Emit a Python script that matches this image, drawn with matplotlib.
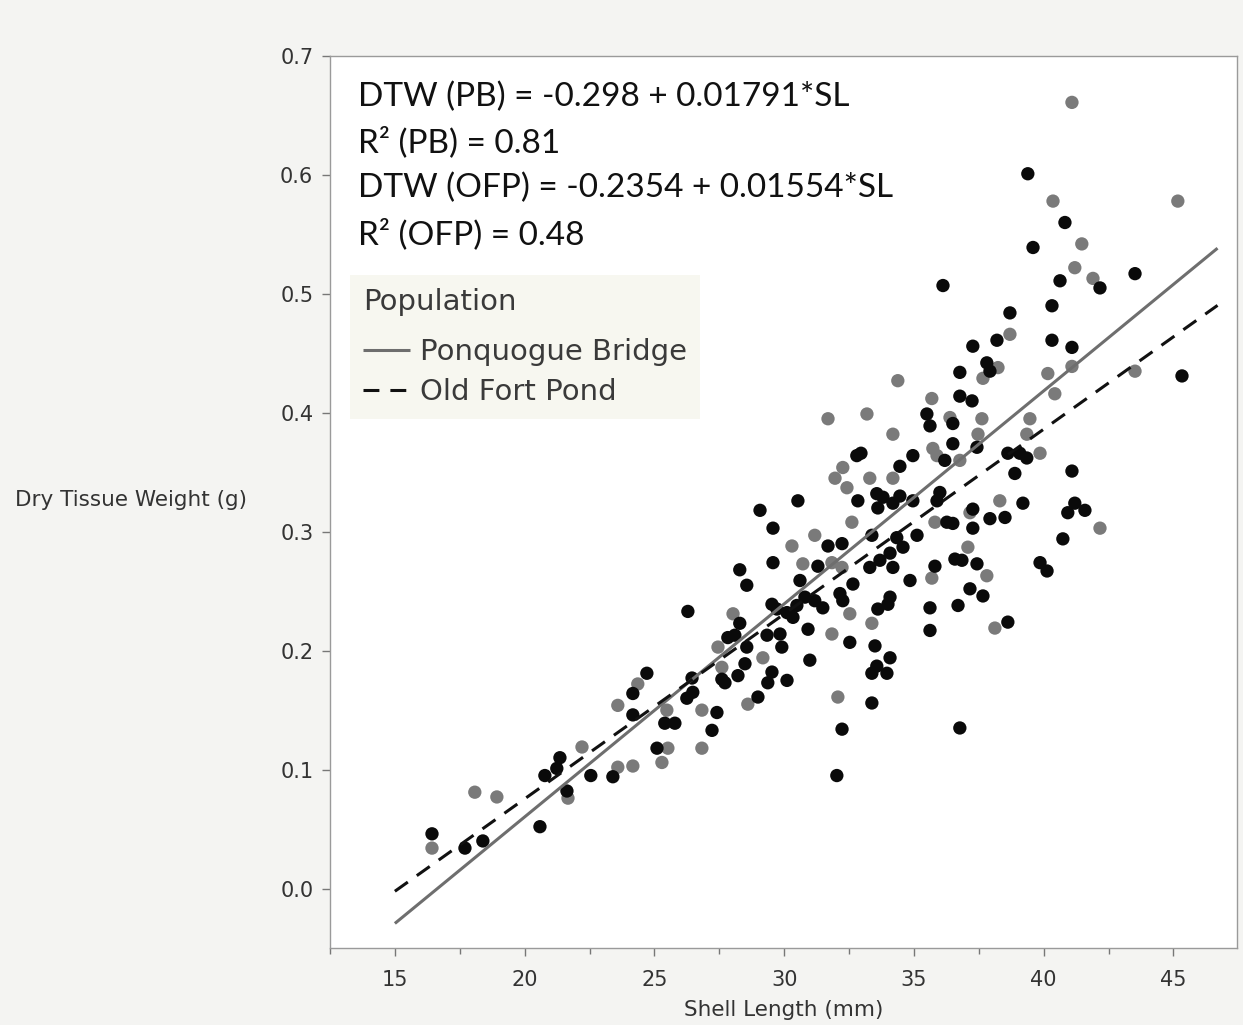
import matplotlib
matplotlib.use("Agg")
import matplotlib.pyplot as plt
from matplotlib.ticker import MultipleLocator
import numpy as np

# ---- data ----
# black points (x = shell length mm, y = dry tissue weight g)
black_x = [16.43, 17.70, 18.39, 20.59, 20.78, 21.24, 21.36, 21.63, 22.55, 23.40, 24.17, 24.17,
           29.07, 30.53, 29.57, 29.57, 28.29, 28.56, 26.29, 28.29, 29.53, 29.72, 30.11, 30.34, 30.49,
           27.83, 28.10, 28.56, 29.34, 29.84, 29.91, 28.49, 27.60, 27.72, 28.22, 29.53, 29.37, 30.11,
           26.45, 24.71, 26.25, 26.48, 28.99, 27.41, 25.40, 25.79, 27.22, 25.10,
           32.80, 32.96, 34.96, 34.46, 32.84, 33.57, 33.81, 33.61, 34.19, 34.46, 34.96, 33.38, 31.69,
           32.23, 35.12, 34.34, 34.58, 31.30, 33.30, 33.69, 34.08, 34.19, 30.61, 32.65, 34.85, 30.80,
           31.18, 31.49, 32.15, 32.26, 34.08, 34.00, 33.61, 30.92, 32.53, 33.50, 34.08, 30.99, 33.57,
           33.38, 33.96, 33.38, 32.23, 32.03,
           38.70, 40.32, 40.32, 37.27, 38.20, 37.81, 37.93, 36.77, 36.77, 37.24, 35.50, 35.62, 36.50,
           36.50, 36.19, 37.43, 38.62, 39.08, 39.35, 38.89, 36.00, 35.89, 39.20, 37.27, 37.93, 38.51,
           37.27, 36.27, 36.50, 36.58, 36.85, 37.43, 35.81, 39.86, 40.13, 37.16, 37.66, 35.62, 36.70,
           35.62, 38.62, 36.77,
           39.39, 40.82, 39.59, 40.63, 42.17, 43.52, 36.12,
           41.09, 45.33, 41.09, 41.20, 40.93, 41.59, 40.74]
black_y = [0.046, 0.034, 0.040, 0.052, 0.095, 0.101, 0.110, 0.082, 0.095, 0.094, 0.164, 0.146,
           0.318, 0.326, 0.303, 0.274, 0.268, 0.255, 0.233, 0.223, 0.239, 0.235, 0.232, 0.228, 0.238,
           0.211, 0.213, 0.203, 0.213, 0.214, 0.203, 0.189, 0.176, 0.173, 0.179, 0.182, 0.173, 0.175,
           0.177, 0.181, 0.160, 0.165, 0.161, 0.148, 0.139, 0.139, 0.133, 0.118,
           0.364, 0.366, 0.364, 0.355, 0.326, 0.332, 0.329, 0.320, 0.324, 0.330, 0.326, 0.297, 0.288,
           0.290, 0.297, 0.295, 0.287, 0.271, 0.270, 0.276, 0.282, 0.270, 0.259, 0.256, 0.259, 0.245,
           0.242, 0.236, 0.248, 0.242, 0.245, 0.239, 0.235, 0.218, 0.207, 0.204, 0.194, 0.192, 0.187,
           0.181, 0.181, 0.156, 0.134, 0.095,
           0.484, 0.490, 0.461, 0.456, 0.461, 0.442, 0.435, 0.434, 0.414, 0.410, 0.399, 0.389, 0.391,
           0.374, 0.360, 0.371, 0.366, 0.366, 0.362, 0.349, 0.333, 0.326, 0.324, 0.319, 0.311, 0.312,
           0.303, 0.308, 0.307, 0.277, 0.276, 0.273, 0.271, 0.274, 0.267, 0.252, 0.246, 0.236, 0.238,
           0.217, 0.224, 0.135,
           0.601, 0.560, 0.539, 0.511, 0.505, 0.517, 0.507,
           0.455, 0.431, 0.351, 0.324, 0.316, 0.318, 0.294]

# gray points
gray_x = [16.43, 18.08, 18.93, 21.67, 22.21, 23.59, 24.17, 23.59, 24.36,
          30.30, 28.03, 27.45, 27.60, 29.18, 28.60, 26.83, 25.48, 25.52, 25.29, 26.83,
          31.69, 33.19, 34.19, 34.38, 32.26, 31.96, 32.42, 33.30, 34.19, 32.61, 31.18, 30.72, 31.84,
          32.23, 32.53, 33.38, 31.84, 32.07,
          38.70, 38.24, 37.66, 40.16, 40.43, 35.69, 36.39, 37.62, 39.47, 37.47, 39.35, 35.73, 35.89,
          36.77, 39.86, 38.31, 37.16, 35.81, 37.08, 35.69, 37.81, 38.12,
          41.09, 40.36, 45.17, 41.47, 41.20, 41.90,
          41.09, 43.52, 42.17]
gray_y = [0.034, 0.081, 0.077, 0.076, 0.119, 0.102, 0.103, 0.154, 0.172,
          0.288, 0.231, 0.203, 0.186, 0.194, 0.155, 0.150, 0.150, 0.118, 0.106, 0.118,
          0.395, 0.399, 0.382, 0.427, 0.354, 0.345, 0.337, 0.345, 0.345, 0.308, 0.297, 0.273, 0.274,
          0.270, 0.231, 0.223, 0.214, 0.161,
          0.466, 0.438, 0.429, 0.433, 0.416, 0.412, 0.396, 0.395, 0.395, 0.382, 0.382, 0.370, 0.364,
          0.360, 0.366, 0.326, 0.316, 0.308, 0.287, 0.261, 0.263, 0.219,
          0.661, 0.578, 0.578, 0.542, 0.522, 0.513,
          0.439, 0.435, 0.303]

# regression fits stated on the chart
pb_intercept, pb_slope = -0.298, 0.01791
ofp_intercept, ofp_slope = -0.2354, 0.01554
fit_x_range = [15.0, 46.7]

equations = ["DTW (PB) = -0.298 + 0.01791*SL",
             "R\u00b2 (PB) = 0.81",
             "DTW (OFP) = -0.2354 + 0.01554*SL",
             "R\u00b2 (OFP) = 0.48"]
series_names = ["Ponquogue Bridge", "Old Fort Pond"]
x_ticks = [15, 20, 25, 30, 35, 40, 45]
y_ticks = [0.0, 0.1, 0.2, 0.3, 0.4, 0.5, 0.6, 0.7]

# ---- figure ----
W, H = 1243, 1025
fig = plt.figure(figsize=(W / 100, H / 100), dpi=100, facecolor="#f4f4f2")
ax = fig.add_axes([330 / W, 1 - 948 / H, (1237 - 330) / W, (948 - 56) / H])
ax.set_facecolor("white")

ax.scatter(gray_x, gray_y, s=92, color="#7a7a7a", edgecolors="none", zorder=3)
ax.scatter(black_x, black_y, s=92, color="#0a0a0a", edgecolors="none", zorder=4)

fx = np.array(fit_x_range)
ax.plot(fx, pb_intercept + pb_slope * fx, color="#6e6e6e", lw=2.2, zorder=5,
        label=series_names[0], solid_capstyle="butt")
ax.plot(fx, ofp_intercept + ofp_slope * fx, color="#111111", lw=2.2, zorder=5,
        dashes=(5.2, 3.6), label=series_names[1])

ax.set_xlim(12.5, 47.45)
ax.set_ylim(-0.05, 0.7)
ax.set_xticks(x_ticks)
ax.set_yticks(y_ticks)
ax.set_yticklabels([f"{v:.1f}" for v in y_ticks])
ax.xaxis.set_minor_locator(MultipleLocator(2.5))

for sp in ax.spines.values():
    sp.set_color("#9a9a9a")
    sp.set_linewidth(1.0)
ax.tick_params(axis="both", which="major", direction="out", length=6, width=1,
               color="#777777", labelcolor="#333333", labelsize=15)
ax.tick_params(axis="x", which="minor", direction="out", length=4, width=1, color="#777777")
ax.tick_params(axis="x", pad=10)
ax.tick_params(axis="y", pad=6)
for lab in ax.get_xticklabels() + ax.get_yticklabels():
    lab.set_family("DejaVu Sans")

ax.set_xlabel("Shell Length (mm)", fontsize=15.5, color="#333333",
              family="DejaVu Sans", labelpad=7)
fig.text(15 / W, 1 - 500 / H, "Dry Tissue Weight (g)", fontsize=15.5, color="#333333",
         family="DejaVu Sans", ha="left", va="center")

eq_y = [97, 142, 188, 234]
for txt, py in zip(equations, eq_y):
    ax.text((358 - 330) / 907, (948 - py) / 892, txt, transform=ax.transAxes,
            fontsize=24, family="Lato", color="#111111", ha="left", va="center", zorder=6)

leg = ax.legend(loc="upper left", bbox_to_anchor=((350 - 330) / 907, (948 - 275) / 892),
                title="Population", frameon=True, fancybox=False,
                alignment="left", handlelength=1.6, handletextpad=0.35,
                borderpad=0.45, labelspacing=0.4, borderaxespad=0,
                prop={"family": "DejaVu Sans", "size": 21},
                title_fontproperties={"family": "DejaVu Sans", "size": 21})
leg._legend_box.sep = 16
leg.get_frame().set_facecolor("#f7f7f0")
leg.get_frame().set_edgecolor("none")
leg.get_frame().set_alpha(1)
leg.get_title().set_color("#3a3a3a")
for t in leg.get_texts():
    t.set_color("#3a3a3a")
leg.set_zorder(7)

fig.savefig("out.png", dpi=100, facecolor=fig.get_facecolor())
